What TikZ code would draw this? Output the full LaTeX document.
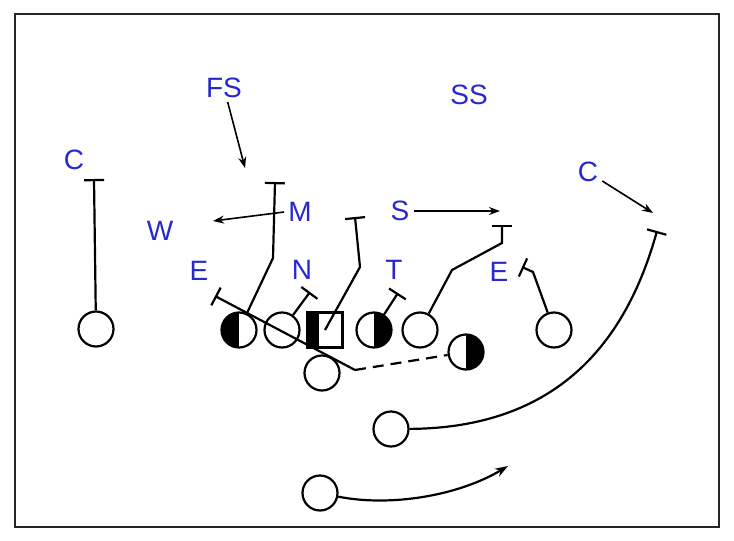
\documentclass[tikz,border=0pt]{standalone}
\usepackage{fontspec}
\setmainfont{Liberation Sans}
\usetikzlibrary{arrows.meta}
\definecolor{labblue}{RGB}{40,40,205}
\begin{document}
\begin{tikzpicture}[x=1pt,y=-1pt,
  lab/.style={text=labblue,font=\fontsize{28}{28}\selectfont,inner sep=4pt},
  pl/.style={circle,draw,line width=2.2pt,minimum size=35pt,inner sep=0pt,fill=white},
  ln/.style={line width=2.2pt},
  tbar/.style={ln,-{Bar[width=20pt]}},
  arr/.style={line width=1.6pt,-{Stealth[length=11pt,width=8pt]}},
  lhalf/.style={path picture={\fill[black] (path picture bounding box.north west) rectangle (path picture bounding box.south);}},
  rhalf/.style={path picture={\fill[black] (path picture bounding box.north) rectangle (path picture bounding box.south east);}},
]
\useasboundingbox (0,0) rectangle (734,541);
\draw[line width=2pt,black!85] (15,14) rectangle (719,527);

% players
\node[pl] (LC) at (96,329) {};
\node[pl,lhalf] (LE) at (239,330) {};
\node[pl] (LG) at (282,330) {};
\node[rectangle,draw,line width=2.2pt,minimum size=35pt,inner sep=0pt,fill=white,
  path picture={\fill[black] (path picture bounding box.south west) rectangle ([xshift=11pt]path picture bounding box.north west);}] (Ce) at (325,330) {};
\node[pl,rhalf] (RG) at (374,330) {};
\node[pl] (RT) at (420,330) {};
\node[pl] (RE) at (554,330) {};
\node[pl,rhalf] (HB) at (466,352) {};
\node[pl] (QB) at (322,373) {};
\node[pl] (RB1) at (391,429) {};
\node[pl] (RB2) at (320,493) {};

% labels
\node[lab] (Cl) at (74,160) {C};
\node[lab] (W) at (160,231) {W};
\node[lab] (FS) at (224,88) {FS};
\node[lab] (SS) at (469,95) {SS};
\node[lab] (M) at (300,212) {M};
\node[lab] (S) at (400,211) {S};
\node[lab] (Cr) at (588,172) {C};
\node[lab] (El) at (199,271) {E};
\node[lab] (N) at (302,270) {N};
\node[lab] (T) at (394,270) {T};
\node[lab] (Er) at (499,272) {E};

% coordinates
\coordinate (lcT) at (94,179);
\coordinate (m1) at (273,258);
\coordinate (mT) at (275,182);
\coordinate (c1) at (360,267);
\coordinate (cT) at (355,217);
\coordinate (nT) at (310,292);
\coordinate (tT) at (398,293);
\coordinate (g1) at (452,270);
\coordinate (g2) at (502,243);
\coordinate (gT) at (502,225);
\coordinate (e1) at (533,272);
\coordinate (eT) at (522,267);
\coordinate (dd) at (355,370);
\coordinate (elT) at (215,296);
\coordinate (rcT) at (657,231);
\coordinate (wTip) at (213,221);
\coordinate (sTip) at (500,211);
\coordinate (fsTip) at (245,168);
\coordinate (crTip) at (653,213);
\coordinate (rbTip) at (508,466);

% routes
\draw[tbar] (LC) -- (lcT);
\draw[tbar] (LE) -- (m1) -- (mT);
\draw[tbar] (Ce.center) -- (c1) -- (cT);
\draw[tbar] (LG) -- (nT);
\draw[tbar] (RG) -- (tT);
\draw[tbar] (RT) -- (g1) -- (g2) -- (gT);
\draw[tbar] (RE) -- (e1) -- (eT);
\draw[tbar] (dd) -- (elT);
\draw[ln,dash pattern=on 11pt off 7pt] (dd) -- (HB);
\draw[tbar] (RB1) .. controls (558,428) and (626,342) .. (rcT);
\draw[ln,-{Stealth[length=13pt,width=9pt]}] (RB2) .. controls (390,507) and (458,496) .. (rbTip);

% arrows
\draw[arr] (M.west) -- (wTip);
\draw[arr] (S.east) -- (sTip);
\draw[arr] (FS) -- (fsTip);
\draw[arr] (Cr) -- (crTip);
\end{tikzpicture}
\end{document}
